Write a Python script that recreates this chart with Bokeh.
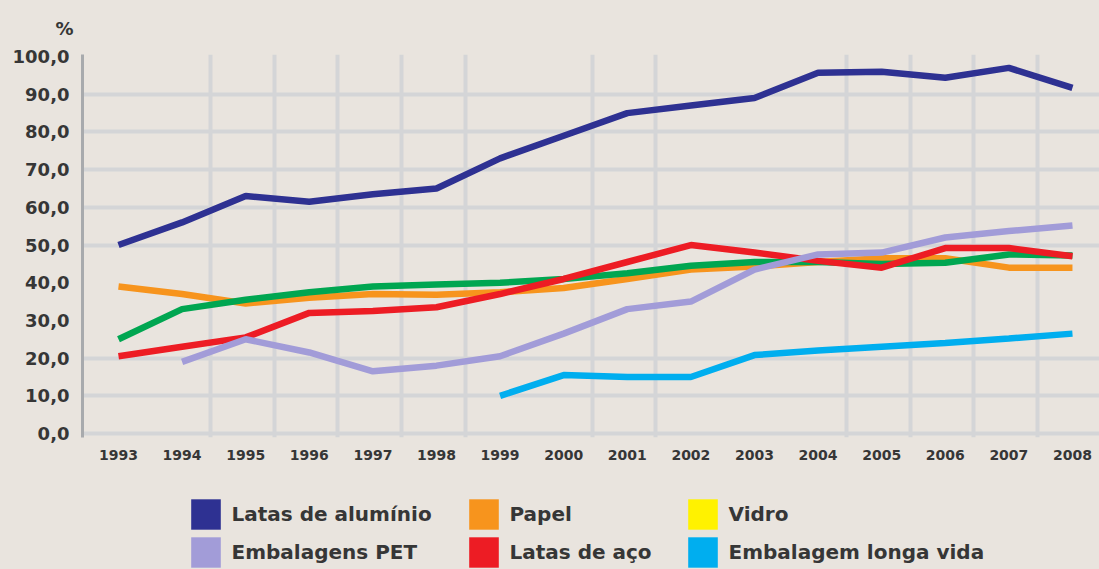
from bokeh.plotting import figure
from bokeh.layouts import column
from bokeh.models import (Range1d, FixedTicker, Legend, LegendItem, Title,
                          CustomJSTickFormatter)
from bokeh.embed import file_html
from bokeh.resources import INLINE

# ---------------- data ----------------
years = list(range(1993, 2009))
y_ticks = [0, 10, 20, 30, 40, 50, 60, 70, 80, 90, 100]

latas_aluminio = [50.0, 56.0, 63.0, 61.5, 63.5, 65.0, 73.0, 79.0, 85.0, 87.0, 89.0, 95.7, 96.0, 94.4, 97.0, 91.7]
papel = [39.0, 37.0, 34.5, 36.0, 37.0, 36.8, 37.5, 38.6, 41.0, 43.5, 44.3, 45.5, 46.5, 46.5, 44.0, 44.0]
vidro = [25.0, 33.0, 35.5, 37.5, 39.0, 39.5, 40.0, 41.0, 42.5, 44.5, 45.5, 45.5, 45.0, 45.3, 47.5, 47.2]
embalagens_pet = [None, 19.0, 25.0, 21.5, 16.5, 18.0, 20.5, 26.5, 33.0, 35.0, 43.5, 47.5, 48.0, 52.0, 53.7, 55.2]
latas_aco = [20.5, 23.0, 25.5, 32.0, 32.5, 33.5, 37.0, 41.0, 45.5, 50.0, 48.0, 45.8, 44.0, 49.2, 49.2, 47.0]
longa_vida = [None, None, None, None, None, None, 10.0, 15.5, 15.0, 15.0, 20.8, 22.0, 23.0, 24.0, 25.2, 26.5]

# drawing order: bottom first
series = [
    ("Papel", papel, "#f7941d"),
    ("Vidro", vidro, "#00a651"),
    ("Latas de aço", latas_aco, "#ed1c24"),
    ("Embalagens PET", embalagens_pet, "#a29cd8"),
    ("Embalagem longa vida", longa_vida, "#00aeef"),
    ("Latas de alumínio", latas_aluminio, "#2e3192"),
]

legend_columns = [
    [("Latas de alumínio", "#2e3192"), ("Embalagens PET", "#a29cd8")],
    [("Papel", "#f7941d"), ("Latas de aço", "#ed1c24")],
    [("Vidro", "#fff200"), ("Embalagem longa vida", "#00aeef")],
]

BG = "#e9e4de"
GRID = "#d4d5d7"
TXT = "#363636"
FONT = "DejaVu Sans"
LEFT = 82

# ---------------- main chart ----------------
p = figure(width=1099, height=480, output_backend="svg", toolbar_location=None,
           x_range=Range1d(1992.434, 2008.425), y_range=Range1d(-1.06, 100.55),
           min_border_left=LEFT, min_border_right=0, min_border_top=52,
           min_border_bottom=43)
p.title = Title(text="%", align="left", offset=-27, standoff=31,
                text_font=FONT, text_font_style="bold", text_font_size="18px",
                text_color=TXT)
p.background_fill_color = BG
p.border_fill_color = BG
p.outline_line_color = None

# y axis
p.yaxis.ticker = FixedTicker(ticks=y_ticks)
p.yaxis.formatter = CustomJSTickFormatter(code="return tick.toFixed(1).replace('.', ',');")
p.yaxis.axis_line_color = "#a8aaad"
p.yaxis.axis_line_width = 3
p.yaxis.major_tick_line_color = None
p.yaxis.minor_tick_line_color = None
p.yaxis.major_label_standoff = 7
p.yaxis.major_label_text_font = FONT
p.yaxis.major_label_text_font_style = "bold"
p.yaxis.major_label_text_font_size = "18px"
p.yaxis.major_label_text_color = TXT

# x axis
p.xaxis.ticker = FixedTicker(ticks=years)
p.xaxis.formatter = CustomJSTickFormatter(code="return tick.toFixed(0);")
p.xaxis.axis_line_color = None
p.xaxis.major_tick_line_color = None
p.xaxis.minor_tick_line_color = None
p.xaxis.major_label_standoff = 6
p.xaxis.major_label_text_font = FONT
p.xaxis.major_label_text_font_style = "bold"
p.xaxis.major_label_text_font_size = "14px"
p.xaxis.major_label_text_color = TXT

# grids
p.ygrid.ticker = FixedTicker(ticks=[0, 10, 20, 50, 60, 70, 80, 90])
p.ygrid.grid_line_color = GRID
p.ygrid.grid_line_width = 4
p.xgrid.ticker = FixedTicker(ticks=[1994.45, 1995.45, 1996.45, 1997.45, 1998.45,
                                    2000.45, 2001.45, 2004.45, 2005.45, 2006.45, 2007.45])
p.xgrid.grid_line_color = GRID
p.xgrid.grid_line_width = 4

# lines
for name, vals, color in series:
    xs = [yr for yr, v in zip(years, vals) if v is not None]
    ys = [v for v in vals if v is not None]
    p.line(xs, ys, line_color=color, line_width=6.5)

# ---------------- legend strip ----------------
q = figure(width=1099, height=89, output_backend="svg", toolbar_location=None,
           x_range=Range1d(0, 1017), y_range=Range1d(0, 89),
           x_axis_location=None, y_axis_location=None,
           min_border_left=LEFT, min_border_right=0, min_border_top=0,
           min_border_bottom=0)
q.background_fill_color = BG
q.border_fill_color = BG
q.outline_line_color = None
q.grid.visible = False

legend_x = [186.5, 464.5, 683.5]   # left edge of each legend column on the page
for col, lx in zip(legend_columns, legend_x):
    items = []
    for label, color in col:
        r = q.rect(x=[-500], y=[-500], width=1, height=1, fill_color=color, line_color=None)
        items.append(LegendItem(label=label, renderers=[r]))
    lg = Legend(items=items, location=(lx - LEFT, -2), orientation="vertical",
                glyph_width=37, glyph_height=38, label_height=38, spacing=0,
                padding=0, margin=0, label_standoff=8,
                border_line_color=None, background_fill_alpha=0,
                label_text_font=FONT, label_text_font_style="bold",
                label_text_font_size="20px", label_text_color=TXT)
    q.add_layout(lg)

layout = column(p, q, spacing=0)
html = file_html(layout, INLINE)
html = html.replace("<head>", "<head><style>html, body { background: %s; }</style>" % BG, 1)
open("out.html", "w").write(html)
